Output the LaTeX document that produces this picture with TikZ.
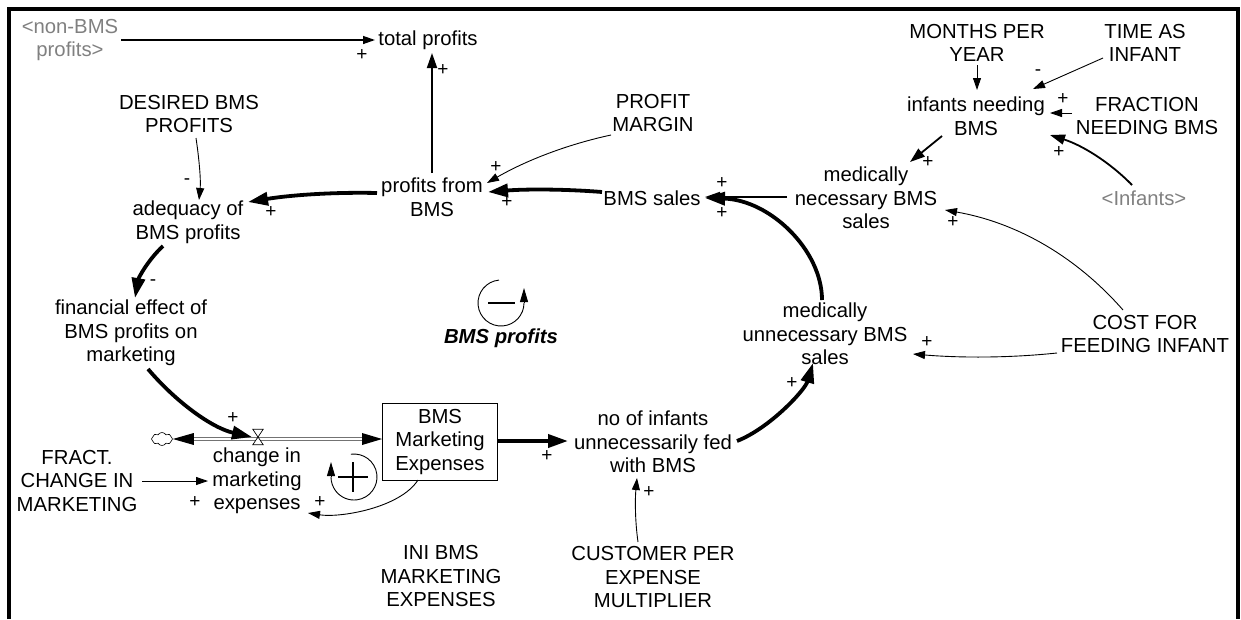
\documentclass[tikz,border=0pt]{standalone}
\usepackage{fontspec}
\setmainfont{Liberation Sans}
\usetikzlibrary{arrows.meta,calc,shapes.symbols}
\begin{document}
\begin{tikzpicture}[x=1pt,y=-1pt,
  lbl/.style={align=center,font=\fontsize{20.3}{23.5}\selectfont,inner sep=0pt},
  ghost/.style={lbl,text=black!50},
  pol/.style={font=\fontsize{19}{19}\selectfont,inner sep=0pt},
  cthin/.style={line width=0.9pt,-{Triangle[length=12pt,width=8pt]}},
  cmid/.style={line width=1.8pt,-{Triangle[length=15pt,width=10pt]}},
  cthick/.style={line width=3.8pt,-{Triangle[length=20pt,width=13pt]}},
  loopline/.style={line width=0.9pt},
]
\useasboundingbox (0,0) rectangle (1241,619);
\draw[line width=4.5pt] (9,619) -- (9,9) -- (1238,9) -- (1238,619);

% nodes
\node[ghost] (nonbms) at (70,40) {<non-BMS\\profits>};
\node[lbl] (total) at (428,40) {total profits};
\node[lbl] (desired) at (189,114) {DESIRED BMS\\PROFITS};
\node[lbl] (margin) at (653,113) {PROFIT\\MARGIN};
\node[lbl] (pfrom) at (432,197) {profits from\\BMS};
\node[lbl] (sales) at (652,198) {BMS sales};
\node[lbl] (adeq) at (188,222) {adequacy of\\BMS profits};
\node[lbl] (months) at (977,43) {MONTHS PER\\YEAR};
\node[lbl] (time) at (1145,43) {TIME AS\\INFANT};
\node[lbl] (infn) at (976,116) {infants needing\\BMS};
\node[lbl] (fraction) at (1147,116) {FRACTION\\NEEDING BMS};
\node[ghost] (infants) at (1144,198) {<Infants>};
\node[lbl] (mednec) at (866,198) {medically\\necessary BMS\\sales};
\node[lbl] (fin) at (131,333) {financial effect of\\BMS profits on\\marketing};
\node[lbl,font=\fontsize{20.3}{23.5}\selectfont\bfseries\itshape] (loopname) at (501,338) {BMS profits};
\node[lbl] (medun) at (825,334) {medically\\unnecessary BMS\\sales};
\node[lbl] (cost) at (1145,334) {COST FOR\\FEEDING INFANT};
\node[cloud, draw, cloud puffs=8, cloud puff arc=120, aspect=1.6, minimum width=21pt, minimum height=13pt, inner sep=0pt, line width=0.6pt] (cloud) at (162,439) {};
\node[minimum width=10pt, minimum height=15pt, inner sep=0pt] (valve) at (258,437) {};
\node[lbl] (change) at (257,481) {change in\\marketing\\expenses};
\node[lbl, draw, line width=0.8pt, minimum width=115pt, minimum height=77pt] (stock) at (440,442) {BMS\\Marketing\\Expenses};
\node[lbl] (fract) at (77,481) {FRACT.\\CHANGE IN\\MARKETING};
\node[lbl] (noinf) at (653,442) {no of infants\\unnecessarily fed\\with BMS};
\node[lbl] (ini) at (441,576) {INI BMS\\MARKETING\\EXPENSES};
\node[lbl] (cust) at (653,577) {CUSTOMER PER\\EXPENSE\\MULTIPLIER};
\node[minimum size=46pt, inner sep=0pt] (loopB) at (501,303) {};
\node[minimum size=46pt, inner sep=0pt] (loopR) at (354,477) {};

% flow pipe
\draw[draw=black!55, double=white, double distance=1.4pt, line width=1pt] ($(cloud.east)+(12,0)$) -- ($(stock.west)+(-12,-3)$);
\fill (cloud.east) -- ++(21,-6) -- ++(0,12) -- cycle;
\fill ($(stock.west)+(0,-3)$) -- ++(-20,-6) -- ++(0,12) -- cycle;
\filldraw[fill=white, line width=0.7pt] (valve.north west) -- (valve.north east) -- (valve.south west) -- (valve.south east) -- cycle;

% connectors
\draw[cthin, line width=1.3pt] ($(nonbms)+(51,0)$) -- ($(total)+(-53,0)$);
\draw[cmid] ($(pfrom)+(0,-24)$) -- ($(total)+(4,13)$);
\draw[cthin] ($(margin)+(-42,22)$) .. controls (567,144.5) and (526,160.5) .. ($(pfrom)+(55,-14)$);
\draw[cthick] ($(sales)+(-50,-6)$) .. controls (564,189) and (526,189) .. ($(pfrom)+(56,-5)$);
\draw[cthick] ($(pfrom)+(-55,-4)$) .. controls (334,192) and (291,195) .. ($(adeq)+(60,-20)$);
\draw[cthin] ($(desired)+(7,24)$) .. controls (199,158) and (201,180) .. ($(adeq)+(11,-22)$);
\draw[cthick] ($(adeq)+(-25,24)$) .. controls (148,260) and (138.6,277.7) .. ($(fin)+(4,-35)$);
\draw[cthick] ($(fin)+(17,36)$) .. controls (176,402) and (212,428) .. ($(valve)+(-6,0)$);
\draw[cthin] ($(fract)+(65,0)$) -- ($(change)+(-49,0)$);
\draw[cthin] ($(stock)+(-22,38)$) .. controls (400,508) and (340,518) .. ($(change)+(51,32)$);
\draw[cthick] ($(stock)+(58,-1)$) -- ($(noinf)+(-85,-1)$);
\draw[cthin] ($(cust)+(-15,-35)$) .. controls (635,521) and (635,499) .. ($(noinf)+(-16,36)$);
\draw[cthick] ($(noinf)+(84,-1)$) .. controls (770,428) and (805,390) .. ($(medun)+(-12,29)$);
\draw[cthick] ($(medun)+(-3,-34)$) .. controls (822,250) and (770,200) .. ($(sales)+(53,0)$);
\draw[cmid] ($(mednec)+(-79,-1)$) -- ($(sales)+(53,-1)$);
\draw[cmid] ($(infn)+(-34,20)$) -- ($(mednec)+(44,-36)$);
\draw[cthin] ($(months)+(0,22)$) -- ($(infn)+(1,-26)$);
\draw[cthin] ($(time)+(-42,15)$) -- ($(infn)+(57,-27)$);
\draw[cthin] ($(fraction)+(-75,-3)$) -- ($(infn)+(74,-3)$);
\draw[cmid] ($(infants)+(-12,-13)$) .. controls (1109,161.5) and (1081.5,145) .. ($(infn)+(74,19)$);
\draw[cthin] ($(cost)+(-22,-24)$) .. controls (1075.5,255.8) and (1016,222.4) .. ($(mednec)+(79,12)$);
\draw[cthin] ($(cost)+(-88,19)$) .. controls (1009,358) and (961,358) .. ($(medun)+(88,20)$);

% loops
\draw[loopline] ($(loopB)+(265:23)$) arc[start angle=265, end angle=0, radius=23];
\draw[loopline, -{Triangle[length=14pt,width=8pt]}] ($(loopB)+(23,0)$) -- ($(loopB)+(23,-15)$);
\draw[line width=1.3pt] ($(loopB)+(-13,0)$) -- ($(loopB)+(14,0)$);
\draw[loopline] ($(loopR)+(-98:23)$) arc[start angle=-98, end angle=180, radius=23];
\draw[loopline, -{Triangle[length=14pt,width=8pt]}] ($(loopR)+(-23,0)$) -- ($(loopR)+(-23,-15)$);
\draw[line width=1.3pt] ($(loopR)+(-16,0)$) -- ($(loopR)+(14,0)$) ($(loopR)+(-1,-15)$) -- ($(loopR)+(-1,15)$);

% polarities
\node[pol] (p1) at (362,55) {+};
\node[pol] (p2) at (443,70) {+};
\node[pol] (p3) at (496,167) {+};
\node[pol] (p4) at (507,202) {+};
\node[pol] (p5) at (271,212) {+};
\node[pol] (p6) at (187,182) {-};
\node[pol] (p7) at (153,283) {-};
\node[pol] (p8) at (233,418) {+};
\node[pol] (p9) at (195,502) {+};
\node[pol] (p10) at (320,502) {+};
\node[pol] (p11) at (547,456) {+};
\node[pol] (p12) at (649,492) {+};
\node[pol] (p13) at (792,383) {+};
\node[pol] (p14) at (722,213) {+};
\node[pol] (p15) at (722,183) {+};
\node[pol] (p16) at (928,162) {+};
\node[pol] (p17) at (1038,73) {-};
\node[pol] (p18) at (1063,99) {+};
\node[pol] (p19) at (1059,152) {+};
\node[pol] (p20) at (953,222) {+};
\node[pol] (p21) at (927,342) {+};
\end{tikzpicture}
\end{document}
